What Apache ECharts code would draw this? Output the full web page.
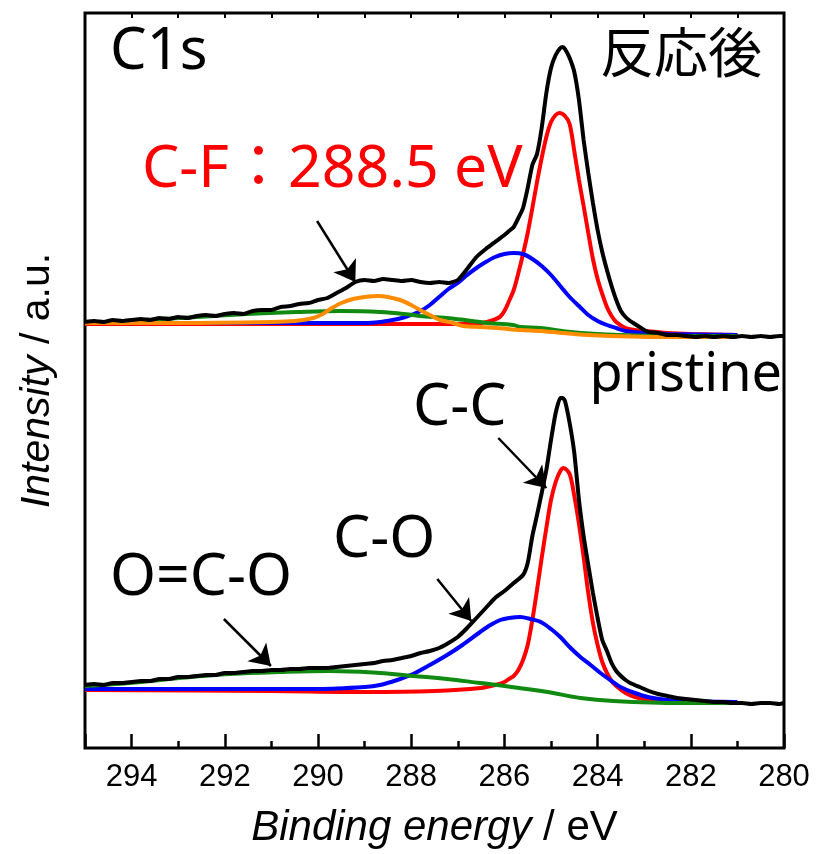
<!DOCTYPE html>
<html><head><meta charset="utf-8">
<script src="https://cdn.jsdelivr.net/npm/echarts@6/dist/echarts.min.js"></script>
<style>html,body{margin:0;padding:0;background:#fff}#c{width:816px;height:854px}</style>
</head><body><div id="c"></div><script>
// ---- tick labels ----
const xTicks = [294, 292, 290, 288, 286, 284, 282, 280];

// ---- upper spectrum (反応後) ----
const topExpE = [295.0,294.8,294.6,294.4,294.2,294.0,293.8,293.6,293.4,293.2,293.0,292.8,292.6,292.4,292.2,292.0,291.8,291.6,291.4,291.2,291.0,290.8,290.6,290.4,290.2,290.0,289.8,289.6,289.4,289.2,289.0,288.8,288.6,288.4,288.2,288.0,287.8,287.6,287.4,287.2,287.0,286.8,286.6,286.4,286.2,286.0,285.9,285.8,285.7,285.6,285.5,285.4,285.3,285.2,285.1,285.0,284.9,284.8,284.75,284.7,284.6,284.5,284.4,284.3,284.2,284.1,284.0,283.9,283.8,283.7,283.6,283.5,283.4,283.3,283.2,283.1,283.0,282.9,282.7,282.5,282.3,282.1,281.9,281.7,281.5,281.3,281.1,280.9,280.7,280.5,280.3,280.1,280.0];
const topExpI = [426,427,426,428,427,428,429,428,430,429,431,430,432,433,432,434,435,434,437,438,438,441,442,444,445,448,450,455,460,466,468,467,469,468,467,468,466,465,466,465,468,479,491,499,506,513,517,521,530,540,560,583,594,620,655,680,693,700,701,699,690,676,648,608,575,545,518,496,478,462,448,437,431,427,424,421,418,416,415,413,413,412,411,412,411,412,411,412,411,412,411,412,412];

const topCCE = [295.0,290.0,287.0,286.5,286.3,286.1,286.0,285.9,285.8,285.7,285.6,285.5,285.4,285.3,285.2,285.1,285.0,284.9,284.82,284.7,284.6,284.5,284.4,284.3,284.2,284.1,284.0,283.9,283.8,283.7,283.6,283.4,283.2,283.0,282.5,282.0,281.0];
const topCCI = [424,424,424,425,427,431,437,447,458,475,494,515,540,566,590,611,626,633,635,632,624,597,568,542,515,489,469,454,441,432,426,420,418,417,415,414,413];

const topCOE = [295.0,290.0,289.0,288.67,288.4,288.2,288.0,287.8,287.6,287.4,287.2,287.0,286.8,286.6,286.4,286.2,286.0,285.8,285.6,285.4,285.2,285.0,284.8,284.6,284.4,284.2,284.0,283.8,283.6,283.4,283.0,282.5,281.0];
const topCOI = [425,425,425,426,428,430,433,437,443,451,459,465,473,480,486,491,494,495,494,489,482,473,462,451,442,433,427,423,420,417,415,414,413];

const topOCOE = [295.0,292.97,291.53,290.45,289.53,288.67,287.96,287.81,287.23,286.52,286.37,285.81,285.66,285.22,284.58,283.51,282.43,281.0];
const topOCOI = [425,430,434,436,437,436,433,432,430,426,425,423,421,420,416,413,412,412];

const topCFE = [295.0,293.0,291.0,290.5,290.1,289.9,289.7,289.5,289.25,289.0,288.71,288.5,288.24,288.0,287.81,287.6,287.38,287.1,286.88,286.5,286.15,285.66,285.22,284.2,282.43,281.0];
const topCFI = [425,425,426,427,430,434,440,445,449,451,452,451,448,443,438,433,428,425,422,421,420,418,417,413,411,411];

// ---- lower spectrum (pristine) ----
const botExpE = [295.0,294.8,294.6,294.4,294.2,294.0,293.8,293.6,293.4,293.2,293.0,292.8,292.6,292.4,292.2,292.0,291.8,291.6,291.4,291.2,291.0,290.8,290.6,290.4,290.2,290.0,289.8,289.6,289.4,289.2,289.0,288.8,288.6,288.4,288.2,288.0,287.8,287.6,287.4,287.2,287.0,286.8,286.6,286.4,286.2,286.0,285.8,285.6,285.5,285.4,285.3,285.2,285.1,285.0,284.9,284.8,284.75,284.7,284.6,284.5,284.4,284.3,284.2,284.1,284.0,283.9,283.8,283.7,283.6,283.5,283.4,283.3,283.1,282.9,282.7,282.5,282.3,282.1,281.9,281.7,281.5,281.3,281.1,280.9,280.7,280.5,280.3,280.1,280.0];
const botExpI = [63,64,63,65,65,66,67,67,69,69,71,71,72,73,73,75,75,76,77,77,78,78,79,79,80,80,80,81,82,83,84,85,87,88,90,92,95,97,100,105,111,120,130,140,150,157,165,173,185,212,233,255,278,308,335,350,350,347,325,295,248,212,183,155,130,108,97,85,77,72,68,65,61,57,54,52,50,49,48,47,46,46,45,45,44,45,45,44,45];

const botCCE = [295.0,291.0,289.0,287.5,286.5,286.2,286.0,285.9,285.8,285.7,285.6,285.5,285.4,285.3,285.2,285.1,285.0,284.9,284.8,284.73,284.6,284.5,284.4,284.3,284.2,284.1,284.0,283.9,283.8,283.7,283.6,283.4,283.2,283.0,282.5,282.0,281.0];
const botCCI = [58,57,56,57,60,63,66,69,72,78,88,103,128,158,190,220,248,266,277,280,274,252,224,191,155,125,103,86,75,67,62,55,51,49,46,45,45];

const botCOE = [295.0,290.0,289.0,288.67,288.3,287.96,287.6,287.23,286.9,286.52,286.3,286.09,285.9,285.66,285.44,285.22,285.0,284.8,284.6,284.37,284.15,283.94,283.7,283.51,283.2,282.92,282.5,282.21,281.0];
const botCOI = [59,59,61,63,68,74,83,93,103,116,123,128,130,131,129,126,119,111,101,91,83,75,67,61,55,51,48,47,46];

const botOCOE = [295.0,294.04,292.97,291.89,290.82,289.74,288.67,287.96,287.23,286.52,286.15,285.07,284.37,283.66,282.21,281.0];
const botOCOI = [62,65,70,74,76,77,75,72,69,65,63,56,50,47,45,45];

// ---- arrows: [startE, startI, endE, endI] ----
const arrowCF  = [290.02, 527, 289.20, 466];
const arrowCC  = [286.13, 310, 285.10, 260];
const arrowCO  = [287.44, 169, 286.71, 127];
const arrowOCO = [292.02, 129, 291.01, 82];

function pairs(e, v) { return e.map((x, i) => [x, v[i]]); }
function arrow(a) { return [{ coord: [a[0], a[1]], symbol: 'none' }, { coord: [a[2], a[3]], symbol: 'arrow' }]; }

const C_BLACK = '#000000', C_RED = '#ff0000', C_BLUE = '#0000ff', C_GREEN = '#108a10', C_ORANGE = '#ff8c00';
function line(name, data, color, width, smooth, extra) {
  return Object.assign({
    name, type: 'line', data, showSymbol: false, symbol: 'none',
    smooth: smooth, lineStyle: { color, width }, itemStyle: { color },
    z: 2, silent: true, animation: false
  }, extra || {});
}
const mlBase = {
  silent: true, animation: false, symbolSize: 20,
  lineStyle: { color: '#000', width: 2.5, type: 'solid' },
  label: { show: false }, emphasis: { disabled: true }
};

const chart = echarts.init(document.getElementById('c'), null, { renderer: 'canvas' });
const AX_FONT = 'Liberation Sans';
const TXT_FONT = 'Noto Sans, Noto Sans CJK JP';

chart.setOption({
  animation: false,
  backgroundColor: '#fff',
  grid: { left: 85, right: 32, top: 13, bottom: 106, show: true, borderColor: '#000', borderWidth: 3, backgroundColor: 'transparent' },
  xAxis: [{
    type: 'value', min: 280, max: 295, interval: 2, inverse: true, position: 'bottom',
    axisLine: { show: false },
    axisTick: { show: true, inside: true, length: 14, lineStyle: { color: '#000', width: 2.5 } },
    minorTick: { show: true, splitNumber: 2, length: 7, lineStyle: { color: '#000', width: 2.5 } },
    splitLine: { show: false },
    axisLabel: { show: true, margin: 14, fontSize: 31, fontFamily: AX_FONT, color: '#000', showMaxLabel: false,
      formatter: v => xTicks.indexOf(v) >= 0 ? String(v) : '' },
    name: '{i|Binding energy} / eV', nameLocation: 'middle', nameGap: 59,
    nameTextStyle: { fontSize: 42, fontFamily: AX_FONT, color: '#000',
      rich: { i: { fontSize: 42, fontFamily: AX_FONT, fontStyle: 'italic', color: '#000' } } }
  }, {
    type: 'value', min: 280, max: 295, interval: 2, inverse: true, position: 'top',
    axisLine: { show: false },
    axisTick: { show: true, inside: true, length: 5, lineStyle: { color: '#000', width: 2 } },
    minorTick: { show: true, splitNumber: 2, length: 5, lineStyle: { color: '#000', width: 2 } },
    splitLine: { show: false }, axisLabel: { show: false }
  }],
  yAxis: {
    type: 'value', min: 0, max: 735,
    axisLine: { show: false }, axisTick: { show: false }, axisLabel: { show: false }, splitLine: { show: false },
    name: '{i|Intensity} / a.u.', nameLocation: 'middle', nameGap: 27, nameRotate: 90,
    nameTextStyle: { fontSize: 41, fontFamily: AX_FONT, color: '#000',
      rich: { i: { fontSize: 41, fontFamily: AX_FONT, fontStyle: 'italic', color: '#000' } } }
  },
  series: [
    line('反応後 exp', pairs(topExpE, topExpI), C_BLACK, 4, 0.2, { z: 3, markLine: Object.assign({ data: [arrow(arrowCF)] }, mlBase) }),
    line('反応後 C-C', pairs(topCCE, topCCI), C_RED, 4, 0.3),
    line('反応後 C-O', pairs(topCOE, topCOI), C_BLUE, 4, 0.3),
    line('反応後 O=C-O', pairs(topOCOE, topOCOI), C_GREEN, 4, 0.4),
    line('反応後 C-F', pairs(topCFE, topCFI), C_ORANGE, 4, 0.3),
    line('pristine exp', pairs(botExpE, botExpI), C_BLACK, 4, 0.2, { z: 3, markLine: Object.assign({ data: [arrow(arrowCC), arrow(arrowCO), arrow(arrowOCO)] }, mlBase) }),
    line('pristine C-C', pairs(botCCE, botCCI), C_RED, 4, 0.3),
    line('pristine C-O', pairs(botCOE, botCOI), C_BLUE, 4, 0.3),
    line('pristine O=C-O', pairs(botOCOE, botOCOI), C_GREEN, 4, 0.4)
  ],
  graphic: [
    { type: 'text', x: 110, y: 52, style: { text: 'C1s', fill: '#000', fontSize: 58, fontFamily: TXT_FONT, align: 'left', verticalAlign: 'middle' } },
    { type: 'text', x: 762, y: 52, style: { text: '反応後', fill: '#000', fontSize: 54, fontFamily: 'Noto Sans CJK JP', align: 'right', verticalAlign: 'middle' } },
    { type: 'text', x: 142, y: 170, style: { text: 'C-F：288.5 eV', fill: '#ff0000', fontSize: 59, fontFamily: TXT_FONT, align: 'left', verticalAlign: 'middle' } },
    { type: 'text', x: 782, y: 376, style: { text: 'pristine', fill: '#000', fontSize: 54, fontFamily: TXT_FONT, align: 'right', verticalAlign: 'middle' } },
    { type: 'text', x: 413, y: 408, style: { text: 'C-C', fill: '#000', fontSize: 59, fontFamily: TXT_FONT, align: 'left', verticalAlign: 'middle' } },
    { type: 'text', x: 333, y: 540, style: { text: 'C-O', fill: '#000', fontSize: 59, fontFamily: TXT_FONT, align: 'left', verticalAlign: 'middle' } },
    { type: 'text', x: 110, y: 578, style: { text: 'O=C-O', fill: '#000', fontSize: 59, fontFamily: TXT_FONT, align: 'left', verticalAlign: 'middle' } }
  ]
});
</script></body></html>
